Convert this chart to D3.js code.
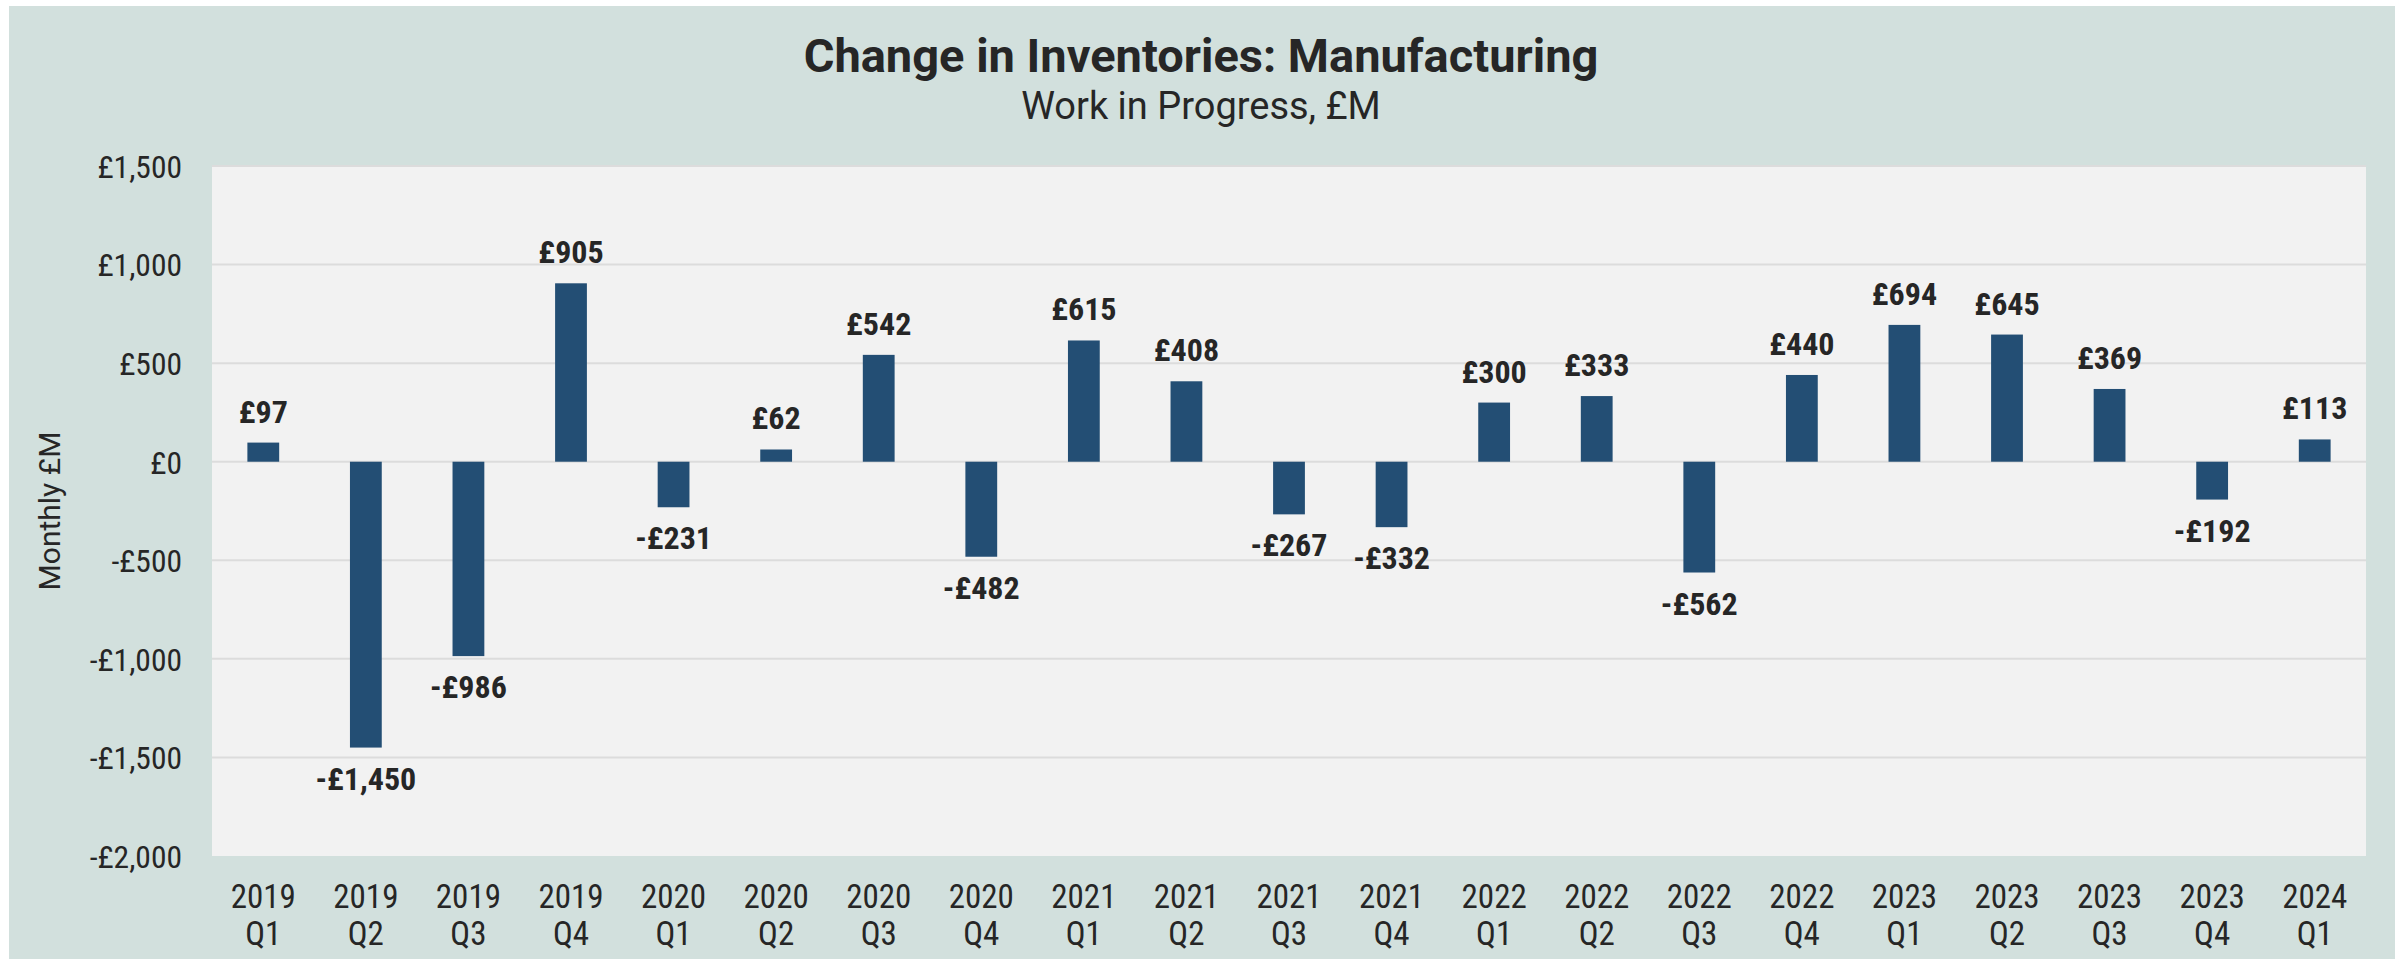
<!DOCTYPE html>
<meta charset="utf-8">
<style>
body { margin: 0; background: #fff; }
text { font-family: "Roboto Condensed", Roboto, sans-serif; fill: #262626; }
.plain { font-family: Roboto, sans-serif; }
</style>
<svg width="2405" height="964"></svg>
<script src="https://d3js.org/d3.v7.min.js"></script>
<script>

// data
var quarters = ["2019 Q1","2019 Q2","2019 Q3","2019 Q4","2020 Q1","2020 Q2","2020 Q3","2020 Q4",
                "2021 Q1","2021 Q2","2021 Q3","2021 Q4","2022 Q1","2022 Q2","2022 Q3","2022 Q4",
                "2023 Q1","2023 Q2","2023 Q3","2023 Q4","2024 Q1"];
var values = [97, -1450, -986, 905, -231, 62, 542, -482, 615, 408, -267, -332,
              300, 333, -562, 440, 694, 645, 369, -192, 113];
var yTicks = [1500, 1000, 500, 0, -500, -1000, -1500, -2000];

var bg_colour = "#d2e0dd";
var plot_colour = "#f2f2f2";
var bar_colour = "#234e74";
var grid_colour = "#dcdcdc";

var svg = d3.select("svg");

var plot = {left: 212, right: 2366, top: 166, bottom: 856};

var x = d3.scaleBand().domain(quarters).range([plot.left, plot.right]).paddingInner(0.69).paddingOuter(0.345);
var y = d3.scaleLinear().domain([-2000, 1500]).range([plot.bottom, plot.top]);

function money(v) {
  return (v < 0 ? "-" : "") + "£" + d3.format(",")(Math.abs(v));
}

function addText(px, py, str, size, weight, cls) {
  return svg.append("text")
    .attr("class", cls || null)
    .attr("x", px)
    .attr("y", py)
    .attr("text-anchor", "middle")
    .style("font-size", size + "px")
    .style("font-weight", weight || 400)
    .text(str);
}

// backgrounds
svg.append("rect").attr("x", 9).attr("y", 6).attr("width", 2386).attr("height", 953).style("fill", bg_colour);
svg.append("rect").attr("x", plot.left).attr("y", plot.top)
   .attr("width", plot.right - plot.left).attr("height", plot.bottom - plot.top)
   .style("fill", plot_colour);

// gridlines
svg.append("g").selectAll("line").data(yTicks.filter(function(d) { return d > -2000; })).enter().append("line")
   .attr("x1", plot.left).attr("x2", plot.right)
   .attr("y1", function(d) { return y(d); }).attr("y2", function(d) { return y(d); })
   .style("stroke", grid_colour).style("stroke-width", 2);

// y axis
var yAxis = svg.append("g")
   .attr("transform", "translate(" + plot.left + ",0)")
   .call(d3.axisLeft(y).tickValues(yTicks).tickFormat(money).tickSize(0).tickPadding(30));
yAxis.select(".domain").remove();
yAxis.attr("font-family", null).attr("font-size", null);
yAxis.selectAll("text")
   .attr("dy", "0.36em")
   .style("font-size", "31.5px")
   .attr("fill", "#262626");

// x labels (two lines)
quarters.forEach(function(q) {
  var parts = q.split(" ");
  var cx = x(q) + x.bandwidth() / 2;
  addText(cx, plot.bottom + 52, parts[0], 33);
  addText(cx, plot.bottom + 89, parts[1], 33);
});

// bars
svg.append("g").selectAll("rect").data(values).enter().append("rect")
   .attr("x", function(d, i) { return x(quarters[i]); })
   .attr("y", function(d) { return y(Math.max(0, d)); })
   .attr("width", x.bandwidth())
   .attr("height", function(d) { return Math.abs(y(d) - y(0)); })
   .style("fill", bar_colour);

// value labels
values.forEach(function(v, i) {
  var cx = x(quarters[i]) + x.bandwidth() / 2;
  var ly = v >= 0 ? y(v) - 20 : y(v) + 42;
  addText(cx, ly, money(v), 32, 700);
});

// titles
addText(1201, 72, "Change in Inventories: Manufacturing", 47, 700, "plain");
addText(1201, 119, "Work in Progress, £M", 38, 400, "plain");

// y axis title
svg.append("text")
   .attr("class", "plain")
   .attr("transform", "translate(60," + ((plot.top + plot.bottom) / 2) + ") rotate(-90)")
   .attr("text-anchor", "middle")
   .style("font-size", "30px")
   .text("Monthly £M");

</script>
